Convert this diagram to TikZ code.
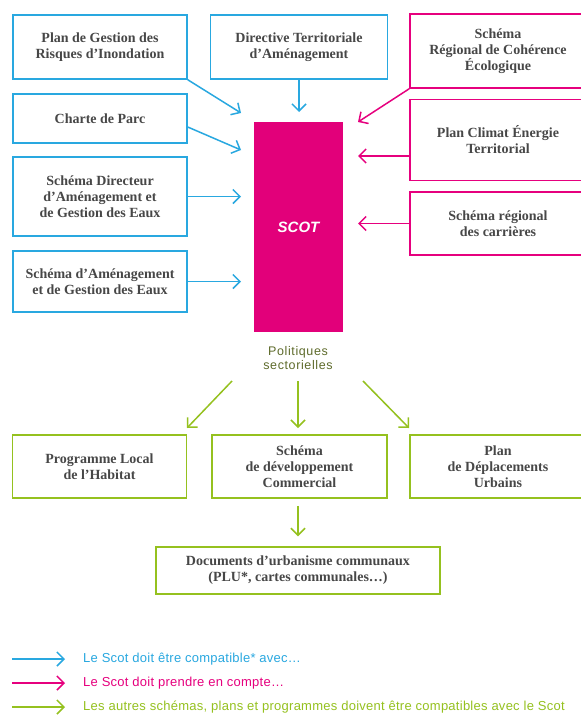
\documentclass[tikz,border=0pt]{standalone}
\usepackage{fontspec}
\setmainfont{Liberation Serif}
\newfontfamily\lsans{Liberation Sans}
\newfontfamily\lsansleg[LetterSpace=5]{Liberation Sans}
\newfontfamily\lsanslegb[LetterSpace=2]{Liberation Sans}
\usetikzlibrary{arrows.meta}
\definecolor{cblue}{HTML}{29A8E0}
\definecolor{cpink}{HTML}{E6007E}
\definecolor{cscot}{HTML}{E2007A}
\definecolor{cgreen}{HTML}{95C11F}
\definecolor{txtgray}{HTML}{474747}
\definecolor{colive}{HTML}{5E6B2B}
\tikzset{
  box/.style={draw, line width=1.5pt, fill=white, text=txtgray, align=center, inner sep=2pt,
    font=\bfseries\fontsize{14}{16}\selectfont},
  bluebox/.style={box, draw=cblue},
  pinkbox/.style={box, draw=cpink},
  greenbox/.style={box, draw=cgreen},
  arr/.style={-{Straight Barb[length=7pt,width=14pt]}, line width=1.5pt},
  legtext/.style={anchor=west, inner sep=0pt, font=\lsanslegb\fontsize{13}{15}\selectfont},
}
\begin{document}
\begin{tikzpicture}[x=1pt,y=-1pt]
\useasboundingbox (0,0) rectangle (581,715);
\clip (0,0) rectangle (581,715);
\fill[white] (0,0) rectangle (581,715);

% left / top blue boxes
\node[bluebox, minimum width=174pt, minimum height=64pt] (pgri) at (100,47) {Plan de Gestion des\\Risques d’Inondation};
\node[bluebox, minimum width=177pt, minimum height=64pt] (dta) at (299,47) {Directive Territoriale\\d’Aménagement};
\node[bluebox, minimum width=174pt, minimum height=49pt] (charte) at (100,118.5) {Charte de Parc};
\node[bluebox, minimum width=174pt, minimum height=79pt] (sdage) at (100,196.5) {Schéma Directeur\\d’Aménagement et\\de Gestion des Eaux};
\node[bluebox, minimum width=174pt, minimum height=61pt] (sage) at (100,281.5) {Schéma d’Aménagement\\et de Gestion des Eaux};

% SCOT
\node[draw=none, fill=cscot, minimum width=89pt, minimum height=210pt, inner sep=0pt,
  text=white, font=\lsans\bfseries\itshape\fontsize{15}{18}\selectfont] (scot) at (298.5,227) {SCOT};

% right pink boxes
\node[pinkbox, minimum width=176pt, minimum height=74pt] (srce) at (498,51) {Schéma\\Régional de Cohérence\\Écologique};
\node[pinkbox, minimum width=176pt, minimum height=81pt] (pcet) at (498,140) {Plan Climat Énergie\\Territorial};
\node[pinkbox, minimum width=176pt, minimum height=63pt] (src) at (498,223.5) {Schéma régional\\des carrières};

% Politiques sectorielles
\node[text=colive, align=center, font=\lsansleg\fontsize{12.5}{13.5}\selectfont, inner sep=0pt] (pol) at (298,358) {Politiques\\sectorielles};

% green boxes
\node[greenbox, minimum width=174pt, minimum height=63pt] (plh) at (99.5,466.5) {Programme Local\\de l’Habitat};
\node[greenbox, minimum width=175pt, minimum height=63pt] (sdc) at (299.5,466.5) {Schéma\\de développement\\Commercial};
\node[greenbox, minimum width=176pt, minimum height=63pt] (pdu) at (498,466.5) {Plan\\de Déplacements\\Urbains};
\node[greenbox, minimum width=284pt, minimum height=47pt] (docs) at (298,570.5) {Documents d’urbanisme communaux\\(PLU*, cartes communales…)};

% arrow end coordinates
\coordinate (e1) at (241,113);
\coordinate (e2) at (241,150);
\coordinate (e3) at (241,196.5);
\coordinate (e4) at (241,281.5);
\coordinate (e5) at (299,112);
\coordinate (e6) at (358,122);
\coordinate (e7) at (358,156);
\coordinate (e8) at (358,223.5);

\draw[arr, cblue] (pgri.south east) -- (e1);
\draw[arr, cblue] ([yshift=-8.5pt]charte.east) -- (e2);
\draw[arr, cblue] (sdage.east) -- (e3);
\draw[arr, cblue] (sage.east) -- (e4);
\draw[arr, cblue] (dta.south) -- (e5);
\draw[arr, cpink] (srce.south west) -- (e6);
\draw[arr, cpink] ([yshift=-16pt]pcet.west) -- (e7);
\draw[arr, cpink] (src.west) -- (e8);

% green arrows
\coordinate (g1s) at (232,381);
\coordinate (g1e) at (187,428);
\coordinate (g2s) at (298,381);
\coordinate (g2e) at (298,428);
\coordinate (g3s) at (363,381);
\coordinate (g3e) at (409,428);
\draw[arr, cgreen] (g1s) -- (g1e);
\draw[arr, cgreen] (g2s) -- (g2e);
\draw[arr, cgreen] (g3s) -- (g3e);
\draw[arr, cgreen, shorten <=7pt, shorten >=10pt] (sdc.south -| docs.north) -- (docs.north);

% legend
\coordinate (l1s) at (12,659); \coordinate (l1e) at (65,659);
\coordinate (l2s) at (12,683); \coordinate (l2e) at (65,683);
\coordinate (l3s) at (12,707); \coordinate (l3e) at (65,707);
\draw[arr, cblue] (l1s) -- (l1e);
\draw[arr, cpink] (l2s) -- (l2e);
\draw[arr, cgreen] (l3s) -- (l3e);
\node[legtext, text=cblue] (t1) at (83,659) {Le Scot doit être compatible* avec…};
\node[legtext, text=cpink] (t2) at (83,683) {Le Scot doit prendre en compte…};
\node[legtext, text=cgreen] (t3) at (83,707) {Les autres schémas, plans et programmes doivent être compatibles avec le Scot};
\end{tikzpicture}
\end{document}
